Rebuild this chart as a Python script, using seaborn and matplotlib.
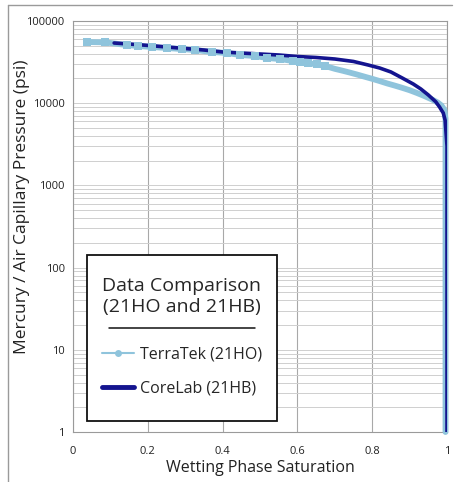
import numpy as np
import pandas as pd
import matplotlib
matplotlib.use('Agg')
import matplotlib.pyplot as plt
import seaborn as sns
from matplotlib.lines import Line2D
from matplotlib.patches import Rectangle
from matplotlib.ticker import FixedLocator, FixedFormatter, LogLocator, NullFormatter

# TerraTek (21HO) - wetting phase saturation vs capillary pressure
terratek_sat = [0.037, 0.086, 0.144, 0.174, 0.211, 0.251, 0.291, 0.326, 0.372, 0.412,
                0.447, 0.487, 0.519, 0.553, 0.588, 0.607, 0.628, 0.652, 0.674, 0.70,
                0.72, 0.74, 0.76, 0.78, 0.80, 0.82, 0.84, 0.86, 0.88, 0.90,
                0.92, 0.94, 0.96, 0.975, 0.985, 0.993, 0.996, 0.996, 0.996, 0.996,
                0.996, 0.996, 0.996]
terratek_pc = [55500, 55000, 51000, 49700, 48300, 47000, 45600, 44400, 42000, 40800,
               38600, 37500, 35500, 34500, 32600, 31700, 30800, 29600, 28400, 26200,
               24900, 23600, 22300, 21000, 19800, 18600, 17400, 16400, 15400, 14400,
               13300, 12200, 11100, 10200, 9400, 8300, 6500, 3000, 300, 30,
               5, 2, 1]

# CoreLab (21HB)
corelab_sat = [0.11, 0.15, 0.20, 0.25, 0.30, 0.35, 0.40, 0.45, 0.50, 0.55,
               0.60, 0.65, 0.70, 0.75, 0.79, 0.82, 0.85, 0.88, 0.91, 0.93,
               0.95, 0.97, 0.98, 0.99, 0.995, 1.0, 1.0, 1.0]
corelab_pc = [54000, 52500, 50500, 48300, 46300, 44400, 42000, 40800, 39700, 38600,
              37000, 36000, 34500, 32200, 29100, 26800, 24000, 20300, 17100, 14900,
              12600, 10400, 9000, 7600, 6200, 3000, 50, 1]

x_ticks = [0, 0.2, 0.4, 0.6, 0.8, 1.0]
x_tick_labels = ['0', '0.2', '0.4', '0.6', '0.8', '1']
y_ticks = [1, 10, 100, 1000, 10000, 100000]
y_tick_labels = ['1', '10', '100', '1000', '10000', '100000']

light_blue = '#8fc4dc'
navy = '#14148f'

sns.set_style('white')
plt.rcParams['font.family'] = ['Open Sans', 'DejaVu Sans']

tt = pd.DataFrame({'sat': terratek_sat, 'pc': terratek_pc})
cl = pd.DataFrame({'sat': corelab_sat, 'pc': corelab_pc})

fig = plt.figure(figsize=(4.54, 4.82), dpi=100)
ax = fig.add_axes([0.1608, 0.1037, 0.8238, 0.8527])

# light band under, dark line on top, then the light squares
sns.lineplot(data=tt, x='sat', y='pc', ax=ax, color=light_blue, linewidth=4.2,
             sort=False, estimator=None, zorder=3, clip_on=False)
sns.lineplot(data=cl, x='sat', y='pc', ax=ax, color=navy, linewidth=2.6,
             sort=False, estimator=None, zorder=4)
sns.scatterplot(data=tt[tt['sat'] < 0.7], x='sat', y='pc', ax=ax, color=light_blue,
                marker='s', s=30, linewidth=0, zorder=5, clip_on=False)

ax.set_yscale('log')
ax.set_xlim(0, 1)
ax.set_ylim(1, 100000)

ax.xaxis.set_major_locator(FixedLocator(x_ticks))
ax.xaxis.set_major_formatter(FixedFormatter(x_tick_labels))
ax.yaxis.set_major_locator(FixedLocator(y_ticks))
ax.yaxis.set_major_formatter(FixedFormatter(y_tick_labels))
ax.yaxis.set_minor_locator(LogLocator(base=10, subs=np.arange(2, 10)))
ax.yaxis.set_minor_formatter(NullFormatter())

ax.grid(True, axis='x', which='major', color='#a8a8a8', linewidth=0.8)
ax.grid(True, axis='y', which='both', color='#cfcfcf', linewidth=0.7)
ax.set_axisbelow(True)

for sp in ax.spines.values():
    sp.set_color('#9a9a9a')
    sp.set_linewidth(0.8)

ax.tick_params(axis='both', which='major', labelsize=8, colors='#9a9a9a',
               labelcolor='#222222', length=3, width=0.7, pad=3)
ax.tick_params(axis='x', which='major', pad=7)
ax.tick_params(axis='y', which='minor', length=0)

ax.set_xlabel('Wetting Phase Saturation', fontsize=11.5, color='#222222', labelpad=2)
ax.set_ylabel('Mercury / Air Capillary Pressure (psi)', fontsize=12.5, color='#222222')
ax.yaxis.set_label_coords(-0.115, 0.547)

# legend frame drawn as its own box
ax.add_patch(Rectangle((0.037, 0.027), 0.508, 0.404, transform=ax.transAxes,
                       facecolor='white', edgecolor='#111111', linewidth=1.3,
                       zorder=9, clip_on=False))

handles = [Line2D([0], [0], color=light_blue, linewidth=1.5, marker='o',
                  markersize=5, markeredgewidth=0),
           Line2D([0], [0], color=navy, linewidth=3.5)]
leg = ax.legend(handles, ['TerraTek (21HO)', 'CoreLab (21HB)'],
                title='Data Comparison\n(21HO and 21HB)',
                loc='upper center', bbox_to_anchor=(0.291, 0.388), borderaxespad=0,
                frameon=False, fontsize=11.5, handlelength=2.0,
                handletextpad=0.4, labelspacing=1.15, borderpad=0.3, title_fontsize=14)
leg.get_title().set_multialignment('center')
leg.get_title().set_linespacing(1.18)
leg._legend_box.sep = 22
leg.set_zorder(10)

# separator line under the legend title
ax.plot([0.096, 0.487], [0.253, 0.253], transform=ax.transAxes, color='#111111',
        linewidth=1.1, zorder=11)

# outer frame (left and top edges)
fig.add_artist(Line2D([0.017, 0.017], [0.0, 0.99], transform=fig.transFigure,
                      color='#9a9a9a', linewidth=1.0))
fig.add_artist(Line2D([0.017, 0.995], [0.99, 0.99], transform=fig.transFigure,
                      color='#9a9a9a', linewidth=1.0))

fig.savefig('out.png', dpi=100)
